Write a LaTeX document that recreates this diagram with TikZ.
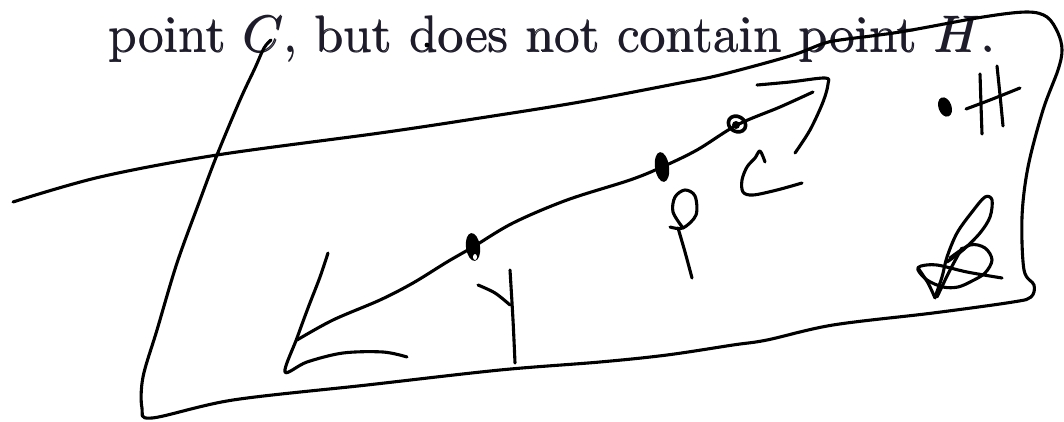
\documentclass[tikz,border=0pt]{standalone}
\begin{document}
\begin{tikzpicture}[x=1pt,y=-1pt,
  ink/.style={line width=3.1pt,line cap=round,line join=round,black},
  sk/.style={ink,smooth,tension=0.55},
  txt/.style={inner sep=0pt,outer sep=0pt,text={rgb,255:red,30;green,28;blue,42}}]
\useasboundingbox (0,0) rectangle (1064,422);
\fill[white] (0,0) rectangle (1064,422);
% printed text (drawn twice, slightly offset, for the heavier scanned look)
\node[txt,anchor=base west] (caption) at (108,52)
  {\resizebox{887pt}{!}{point $C$, but does not contain point $H$.}};
\node[txt,anchor=base west] (captionb) at (108.7,52.3)
  {\resizebox{887pt}{!}{point $C$, but does not contain point $H$.}};
\fill[black] (427,45) circle (2.4);
% plane with the line
\draw[sk] plot coordinates {(13,202) (100,177) (217,155) (380,133) (480,118) (580,102) (680,83) (720,75) (790,56) (822,44) (840,40) (900,32) (983,17) (1027,12) (1047,17) (1058,33) (1062,50) (1058,70) (1043,110) (1028,167) (1022,217) (1024,270) (1034,285) (1031,297) (1013,302) (933,313) (833,325) (767,340) (733,345) (667,355) (600,362) (500,370) (367,385) (233,400) (152,418) (142,408) (143,377) (157,330) (177,263) (200,200) (217,155) (240,100) (255,68) (264,48) (271,40)};
% line with arrows
\coordinate (L) at (297,340);
\coordinate (R) at (813,92);
\draw[sk] plot coordinates {(297,340) (333,320) (380,300) (413,283) (447,262) (473,247) (513,223) (567,200) (630,180) (662,167) (697,150) (737,125) (780,107) (813,92)};
\draw[sk] plot coordinates {(328,253) (320,277) (308,308) (297,338) (285,372) (307,362) (343,353) (383,352) (407,357)};
\draw[sk] plot coordinates {(757,85) (790,82) (825,78) (828,84) (823,102) (810,130) (795,153)};
% points
\fill[black,rotate around={8:(473,247)}] (473,247) ellipse (7 and 14);
\fill[white] (475,257) ellipse (2 and 3);
\fill[black,rotate around={8:(662,167)}] (662,167) ellipse (7 and 15);
\draw[ink,line width=3.6pt,rotate around={-30:(737,124)}] (737,124) ellipse (9 and 7.5);
\fill[black] (736,125) circle (4);
\fill[black,rotate around={20:(945,107)}] (945,107) ellipse (6.5 and 10);
% label Y
\draw[sk] plot coordinates {(510,270) (513,320) (515,363)};
\draw[sk] plot coordinates {(478,285) (495,293) (510,305)};
% label P
\draw[sk] plot coordinates {(670,227) (683,228) (696,215) (695,196) (685,190) (675,197) (673,212) (683,228)};
\draw[sk] plot coordinates {(678,228) (685,252) (692,278)};
% label C
\draw[sk] plot coordinates {(765,162) (760,151) (755,158) (747,167) (742,180) (743,192) (753,195) (777,190) (802,183)};
% label H
\draw[sk] plot coordinates {(980,74) (981,105) (982,134)};
\draw[sk] plot coordinates {(997,66) (1000,95) (1003,126)};
\draw[sk] plot coordinates {(966,109) (990,100) (1020,88)};
% label B
\draw[sk] plot coordinates {(935,297) (942,277) (947,257) (957,233) (972,212) (985,197) (992,200) (990,217) (980,233) (963,250) (947,262)};
\draw[sk] plot coordinates {(950,258) (970,245) (985,248) (992,260) (985,273) (972,281) (958,287) (943,287) (927,280) (918,270) (921,266) (937,265) (967,272) (1002,278)};
\draw[sk] plot coordinates {(918,268) (928,283) (935,298)};
\draw[sk] plot coordinates {(962,248) (950,270) (937,297)};
\end{tikzpicture}
\end{document}
